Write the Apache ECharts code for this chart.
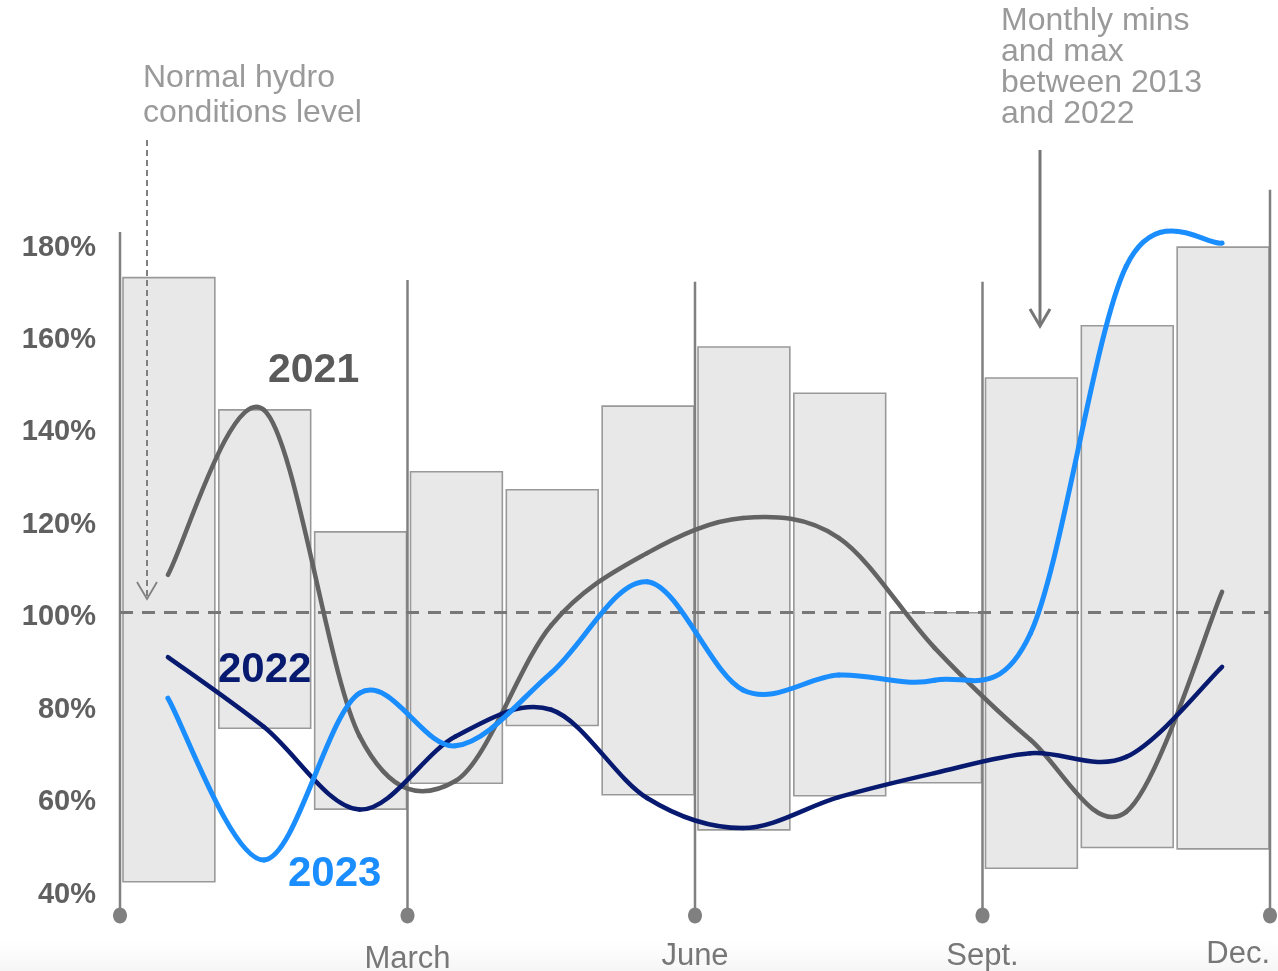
<!DOCTYPE html>
<html>
<head>
<meta charset="utf-8">
<script src="https://cdn.jsdelivr.net/npm/echarts@6/dist/echarts.min.js"></script>
<style>
  html, body { margin: 0; padding: 0; background: #ffffff; }
  #chart { width: 1278px; height: 971px; }
</style>
</head>
<body>
<div id="chart"></div>
<script>
// Hydro conditions, % of normal, by month
const months = ['Jan', 'Feb', 'Mar', 'Apr', 'May', 'Jun', 'Jul', 'Aug', 'Sep', 'Oct', 'Nov', 'Dec'];

// Monthly min / max between 2013 and 2022
const rangeMin = [41.8, 75.0, 57.5, 63.1, 75.6, 60.6, 53.0, 60.4, 63.2, 44.7, 49.2, 48.9];
const rangeMax = [172.5, 143.9, 117.5, 130.5, 126.6, 144.7, 157.5, 147.5, 100.0, 150.8, 162.1, 179.1];

// Yearly series
const y2021 = [108.2, 143.9, 73.3, 63.6, 97.3, 112.9, 120.5, 116.2, 92.4, 72.5, 56.9, 104.5];
const y2022 = [90.4, 75.3, 57.4, 73.2, 79.0, 59.9, 53.4, 60.1, 65.3, 69.6, 68.8, 88.3];
const y2023 = [81.5, 46.5, 82.6, 71.2, 87.0, 106.7, 83.3, 86.5, 85.4, 95.5, 175.0, 180.0];

// Quarter boundaries on the month scale and their labels
const quarterTicks = [0, 3, 6, 9, 12];
const quarterLabels = ['', 'March', 'June', 'Sept.', 'Dec.'];

// Value axis
const yMin = 40, yMax = 180, yStep = 20;
const normalLevel = 100;

// ---- styling ----
const FONT = '"Liberation Sans", Arial, Helvetica, sans-serif';
const C2021 = '#636363', C2022 = '#071a6f', C2023 = '#1a8dff';
const DIVIDER = '#808080';
// how far each quarter divider reaches above the plot (value units) and where its dot sits
const dividerTop = [182.4, 172.0, 171.6, 171.6, 191.5];
const dividerDot = 34.5;
// small vertical nudges (px) of the quarter labels
const quarterLabelNudge = [0, 5, 2, 2, 0];

const chart = echarts.init(document.getElementById('chart'), null, { renderer: 'canvas' });

const pts = arr => arr.map((v, i) => [i + 0.5, v]);

// Smooth curve through the monthly points (cardinal spline drawn as bezier segments)
function splineSeries(name, values, color, width, z) {
  return {
    name: name,
    type: 'custom',
    z: z,
    clip: false,
    encode: { x: 0, y: 1 },
    data: pts(values),
    renderItem: (params, api) => {
      const i = params.dataIndex;
      const n = values.length;
      if (i >= n - 1) return null;
      const P = k => {
        const j = Math.max(0, Math.min(n - 1, k));
        return api.coord([j + 0.5, values[j]]);
      };
      const p0 = P(i - 1), p1 = P(i), p2 = P(i + 1), p3 = P(i + 2);
      return {
        type: 'bezierCurve',
        shape: {
          x1: p1[0], y1: p1[1], x2: p2[0], y2: p2[1],
          cpx1: p1[0] + (p2[0] - p0[0]) / 6, cpy1: p1[1] + (p2[1] - p0[1]) / 6,
          cpx2: p2[0] - (p3[0] - p1[0]) / 6, cpy2: p2[1] - (p3[1] - p1[1]) / 6
        },
        style: { stroke: color, lineWidth: width, fill: null, lineCap: 'round' }
      };
    }
  };
}

const quarterRich = {};
quarterLabels.forEach((t, k) => {
  quarterRich['q' + k] = {
    fontFamily: FONT, fontSize: 31, color: '#777777',
    padding: [quarterLabelNudge[k], 0, 0, 0]
  };
});

const option = {
  animation: false,
  backgroundColor: '#ffffff',
  grid: { left: 120, right: 8, top: 243, bottom: 81, containLabel: false, outerBoundsMode: 'none' },
  xAxis: {
    type: 'value', min: 0, max: 12, interval: 3,
    axisLine: { show: false }, axisTick: { show: false }, splitLine: { show: false },
    axisLabel: {
      margin: 49,
      fontFamily: FONT, fontSize: 31, color: '#777777',
      alignMaxLabel: 'right',
      formatter: v => {
        const k = quarterTicks.indexOf(v);
        return k > 0 ? '{q' + k + '|' + quarterLabels[k] + '}' : '';
      },
      rich: quarterRich
    }
  },
  yAxis: {
    type: 'value', min: yMin, max: yMax, interval: yStep,
    axisLine: { show: false }, axisTick: { show: false }, splitLine: { show: false },
    axisLabel: {
      margin: 24,
      formatter: v => '{p|' + v + '%}',
      rich: {
        p: { fontFamily: FONT, fontSize: 29, fontWeight: 'bold', color: '#606060', padding: [9, 0, 0, 0] }
      }
    }
  },
  series: [
    {
      name: 'Range 2013-2022',
      type: 'custom',
      z: 1,
      encode: { x: 0, y: [1, 2] },
      data: months.map((m, i) => [i, rangeMin[i], rangeMax[i]]),
      renderItem: (params, api) => {
        const lo = api.coord([api.value(0), api.value(1)]);
        const hi = api.coord([api.value(0) + 1, api.value(2)]);
        return {
          type: 'rect',
          shape: { x: lo[0] + 3, y: hi[1], width: hi[0] - lo[0] - 4, height: lo[1] - hi[1] },
          style: { fill: '#e8e8e8', stroke: '#999999', lineWidth: 1.6 }
        };
      }
    },
    {
      name: 'Quarters',
      type: 'custom',
      z: 2,
      clip: false,
      silent: true,
      encode: { x: 0 },
      data: quarterTicks.map(v => [v]),
      renderItem: (params, api) => {
        const v = api.value(0);
        const k = params.dataIndex;
        const top = api.coord([v, dividerTop[k]]);
        const bot = api.coord([v, dividerDot]);
        return {
          type: 'group',
          children: [
            { type: 'line', shape: { x1: top[0], y1: top[1], x2: bot[0], y2: bot[1] },
              style: { stroke: DIVIDER, lineWidth: 2.5 } },
            { type: 'ellipse', shape: { cx: bot[0], cy: bot[1], rx: 7, ry: 8 },
              style: { fill: DIVIDER } }
          ]
        };
      }
    },
    {
      name: 'Normal',
      type: 'line',
      z: 3,
      data: [],
      markLine: {
        silent: true,
        symbol: 'none',
        label: { show: false },
        lineStyle: { color: '#777777', width: 3, type: [13, 9] },
        data: [{ yAxis: normalLevel }]
      }
    },
    splineSeries('2021', y2021, C2021, 4.5, 5),
    splineSeries('2022', y2022, C2022, 4.5, 6),
    splineSeries('2023', y2023, C2023, 5, 7)
  ],
  graphic: [
    // faint floor shading along the bottom edge
    { type: 'rect', z: -1, silent: true,
      shape: { x: 0, y: 940, width: 1278, height: 31 },
      style: { fill: new echarts.graphic.LinearGradient(0, 0, 0, 1, [
        { offset: 0, color: 'rgba(0,0,0,0)' },
        { offset: 1, color: 'rgba(0,0,0,0.035)' }
      ]) } },

    // annotation: normal level
    { type: 'text', left: 143, top: 61, z: 10,
      style: { text: 'Normal hydro\nconditions level', fontFamily: FONT, fontSize: 32,
               lineHeight: 34.5, fill: '#9a9a9a' } },
    { type: 'line', z: 10,
      shape: { x1: 147, y1: 140, x2: 147, y2: 598 },
      style: { stroke: '#808080', lineWidth: 2, lineDash: [6, 4] } },
    { type: 'polyline', z: 10,
      shape: { points: [[137, 582], [147, 599], [157, 582]] },
      style: { stroke: '#808080', lineWidth: 1.8, fill: null } },

    // annotation: monthly range
    { type: 'text', left: 1001, top: 5, z: 10,
      style: { text: 'Monthly mins\nand max\nbetween 2013\nand 2022', fontFamily: FONT, fontSize: 32,
               lineHeight: 31, fill: '#9a9a9a' } },
    { type: 'line', z: 10,
      shape: { x1: 1040, y1: 150, x2: 1040, y2: 326 },
      style: { stroke: '#777777', lineWidth: 3 } },
    { type: 'polyline', z: 10,
      shape: { points: [[1030, 309], [1040, 326], [1050, 309]] },
      style: { stroke: '#777777', lineWidth: 3, fill: null } },

    // series labels
    { type: 'text', left: 268, top: 350, z: 10,
      style: { text: '2021', fontFamily: FONT, fontSize: 41, fontWeight: 'bold', fill: '#5a5a5a' } },
    { type: 'text', left: 218, top: 649, z: 10,
      style: { text: '2022', fontFamily: FONT, fontSize: 42, fontWeight: 'bold', fill: C2022 } },
    { type: 'text', left: 288, top: 853, z: 10,
      style: { text: '2023', fontFamily: FONT, fontSize: 42, fontWeight: 'bold', fill: C2023 } }
  ]
};

chart.setOption(option);
</script>
</body>
</html>
